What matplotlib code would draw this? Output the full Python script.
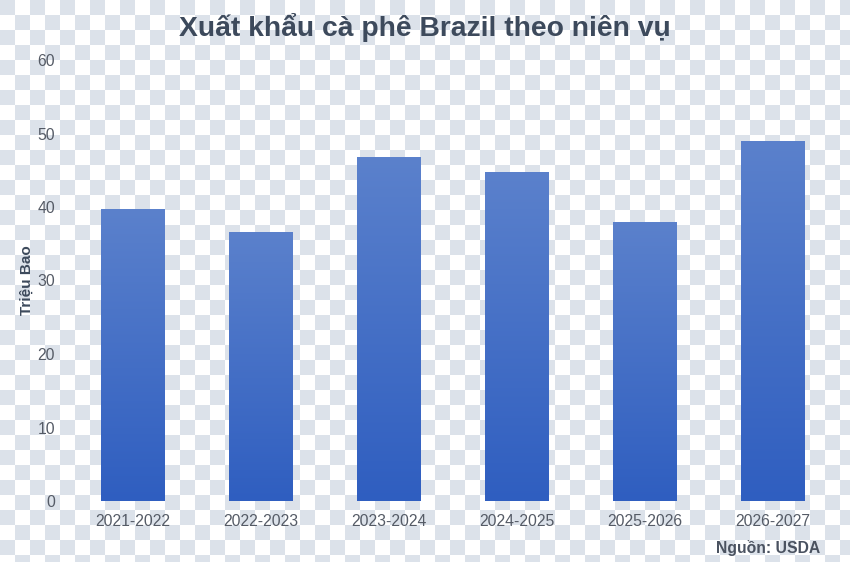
import numpy as np
import matplotlib
matplotlib.use("Agg")
import matplotlib.pyplot as plt
from matplotlib.colors import LinearSegmentedColormap

plt.rcParams['font.family'] = ['Liberation Sans', 'DejaVu Sans']

# du lieu
nien_vu = ['2021-2022', '2022-2023', '2023-2024', '2024-2025', '2025-2026', '2026-2027']
xuat_khau = [39.7, 36.6, 46.8, 44.8, 37.9, 49.0]
y_ticks = [0, 10, 20, 30, 40, 50, 60]

W, H = 850, 562
fig = plt.figure(figsize=(W / 100, H / 100), dpi=100)

# nen o ca ro (gia lap anh trong suot)
sq = 15
yy, xx = np.mgrid[0:H, 0:W]
board = ((xx // sq + yy // sq) % 2 == 0)
bg = np.ones((H, W, 3))
bg[board] = np.array([220, 226, 234]) / 255
fig.figimage(bg, 0, 0, zorder=-10)

ax = fig.add_axes([69 / W, 1 - 501 / H, (837 - 69) / W, (501 - 60) / H])
ax.set_zorder(5)
ax.patch.set_alpha(0)

cmap = LinearSegmentedColormap.from_list('g', ['#2f5ec0', '#5b81cc'])
grad = np.linspace(0, 1, 256).reshape(-1, 1)

x = np.arange(len(nien_vu))
bars = ax.bar(x, xuat_khau, width=0.5, color='none', edgecolor='none', zorder=2)
for b in bars:
    x0, w, h = b.get_x(), b.get_width(), b.get_height()
    im = ax.imshow(grad, extent=[x0, x0 + w, 0, h], origin='lower',
                   aspect='auto', cmap=cmap, zorder=2)
    im.set_clip_path(b)

ax.set_xlim(-0.5, len(nien_vu) - 0.5)
ax.set_ylim(0, 60)
ax.set_xticks(x)
ax.set_xticklabels(nien_vu)
ax.set_yticks(y_ticks)
for s in ax.spines.values():
    s.set_visible(False)
ax.tick_params(axis='x', length=0, pad=9, labelsize=11.3, labelcolor='#555b66')
ax.tick_params(axis='y', length=0, pad=10, labelsize=11.3, labelcolor='#555b66')

ax.set_ylabel('Triệu Bao', fontsize=11, fontweight='bold', color='#3d4a5c')
ax.yaxis.set_label_coords((34 - 69) / 768, 0.5)
fig.text(0.5, 1 - 28 / H, 'Xuất khẩu cà phê Brazil theo niên vụ', ha='center', va='center',
         fontsize=20.3, fontweight='bold', color='#3d4a5c', zorder=6)
fig.text(820 / W, 1 - 548 / H, 'Nguồn: USDA', ha='right', va='center',
         fontsize=11.3, fontweight='bold', color='#4a5260', zorder=6)

fig.savefig('out.png', dpi=100)
